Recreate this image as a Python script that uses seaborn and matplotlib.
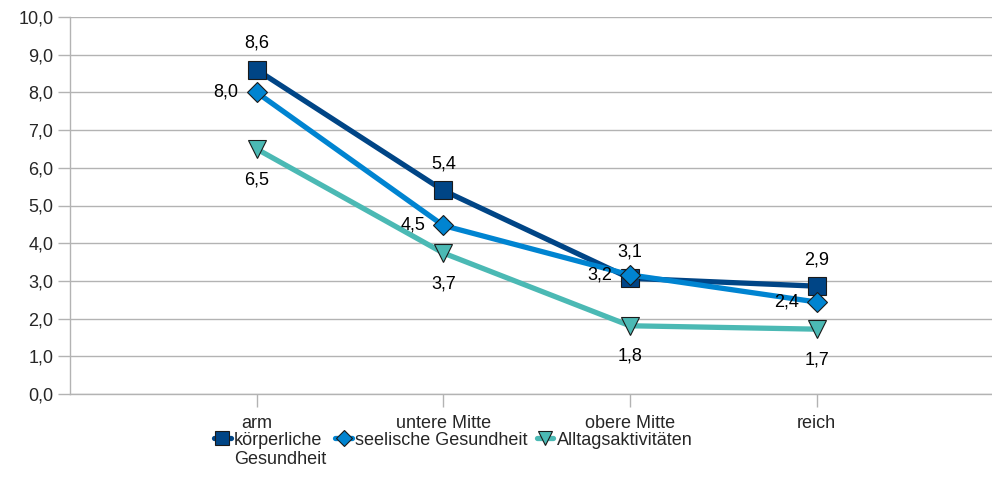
import numpy as np
import pandas as pd
import matplotlib
matplotlib.use('Agg')
import matplotlib.pyplot as plt
import matplotlib.transforms as mtransforms
from matplotlib.legend_handler import HandlerLine2D
import seaborn as sns
from matplotlib.lines import Line2D

###########
# Data    #
###########
categories = ['arm', 'untere Mitte', 'obere Mitte', 'reich']
koerper = [8.6, 5.4, 3.07, 2.86]
seele = [8.0, 4.47, 3.16, 2.44]
alltag = [6.5, 3.74, 1.81, 1.72]
series_names = ['körperliche Gesundheit', 'seelische Gesundheit', 'Alltagsaktivitäten']
# two-line labels everywhere so the first lines line up like the original
legend_labels = ['körperliche\nGesundheit', 'seelische Gesundheit\n ', 'Alltagsaktivitäten\n ']
y_ticks = [0, 1, 2, 3, 4, 5, 6, 7, 8, 9, 10]

colors = ['#004586', '#0084d1', '#4bb9b4']
markers = ['s', 'D', 'v']
msizes = [13, 10, 13]


class RaisedHandler(HandlerLine2D):
    """ Legend handle moved up to sit next to the first text line. """
    def create_artists(self, legend, orig_handle, xdescent, ydescent,
                       width, height, fontsize, trans):
        shift = mtransforms.ScaledTranslation(0, 8.5 / 72, legend.figure.dpi_scale_trans)
        return super().create_artists(legend, orig_handle, xdescent, ydescent,
                                      width, height, fontsize, trans + shift)


# Long format for seaborn
df = pd.DataFrame({
    'kategorie': categories * 3,
    'wert': koerper + seele + alltag,
    'reihe': np.repeat(series_names, len(categories)),
})

sns.set_theme(style='white')
plt.rcParams['font.family'] = ['Liberation Sans', 'DejaVu Sans']

fig = plt.figure(figsize=(9.92, 4.99), dpi=100)
ax = fig.add_axes([70 / 992, 105 / 499, 922 / 992, 377 / 499])

# grid first so lines sit above it
ax.set_axisbelow(True)
ax.yaxis.grid(True, color='#b3b3b3', linewidth=1)

sns.lineplot(data=df, x='kategorie', y='wert', hue='reihe', style='reihe',
             palette=colors, markers=markers, dashes=False, linewidth=3.8,
             markersize=13, markeredgecolor='#1a1a1a', markeredgewidth=0.8,
             sort=False, legend=False, ax=ax)

# fix marker sizes per series
for line, ms in zip(ax.lines, msizes):
    line.set_markersize(ms)

# value labels
offsets = [(0, 13), (-13, 0), (0, -16)]
aligns = [('center', 'bottom'), ('right', 'center'), ('center', 'top')]
for vals, off, (ha, va) in zip([koerper, seele, alltag], offsets, aligns):
    for i, v in enumerate(vals):
        ax.annotate(f'{v:.1f}'.replace('.', ','), (i, v), xytext=off,
                    textcoords='offset points', ha=ha, va=va, fontsize=13,
                    color='black')

ax.set_xlim(-1, 3.94)
ax.set_ylim(0, 10)
ax.set_yticks(y_ticks)
ax.set_yticklabels([f'{t:.1f}'.replace('.', ',') for t in y_ticks], fontsize=13)
ax.set_xticks(range(len(categories)))
ax.set_xticklabels(categories, fontsize=13)
ax.set_xlabel('')
ax.set_ylabel('')

for s in ['top', 'right']:
    ax.spines[s].set_visible(False)
for s in ['left', 'bottom']:
    ax.spines[s].set_color('#b3b3b3')
    ax.spines[s].set_linewidth(1)
ax.tick_params(axis='both', which='both', direction='out', length=9,
               color='#b3b3b3', width=1, left=True, bottom=True, pad=3)
ax.tick_params(axis='x', pad=6)

# legend
handles = [Line2D([0], [0], color=c, marker=m, markersize=ms * 0.8, linewidth=3.8,
                  markeredgecolor='#1a1a1a', markeredgewidth=0.8)
           for c, m, ms in zip(colors, markers, msizes)]
fig.legend(handles, legend_labels, loc='upper center', bbox_to_anchor=(0.457, 0.135),
           ncol=3, frameon=False, fontsize=13, handlelength=0.9, handletextpad=0.2,
           columnspacing=0.5, borderaxespad=0, borderpad=0, labelspacing=0,
           handler_map={Line2D: RaisedHandler()})

fig.savefig('out.png', dpi=100)
